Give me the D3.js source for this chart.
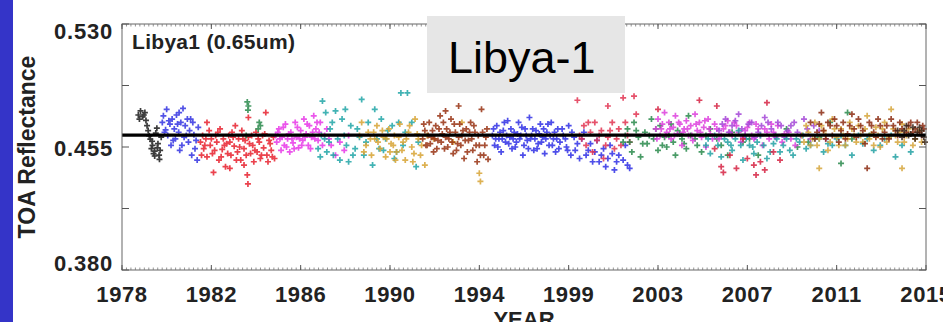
<!DOCTYPE html>
<html>
<head>
<meta charset="utf-8">
<script src="https://cdn.jsdelivr.net/npm/d3@7"></script>
<style>
  html, body { margin: 0; padding: 0; background: #fff; overflow: hidden; }
  svg { display: block; }
</style>
</head>
<body>
<svg id="chart" width="943" height="322"></svg>
<script>
// Axis definitions
const yTickValues = [0.380, 0.455, 0.530];
const yTickLabels = ["0.380", "0.455", "0.530"];
const yMinorValues = [0.4175, 0.4925];
const xTickYears = [1978, 1982.1, 1986.2, 1990.3, 1994.4, 1998.5, 2002.6, 2006.7, 2010.8, 2014.9];
const xTickLabels = ["1978", "1982", "1986", "1990", "1994", "1999", "2003", "2007", "2011", "2015"];
const meanLevel = 0.4623;

// TOA reflectance samples per satellite, [decimal year, reflectance]
const tirosN = [[1978.75,0.4745],[1978.85,0.4770],[1978.95,0.4735],[1979.05,0.4760],[1979.1,0.4712],[1979.2,0.4650],[1979.25,0.4618],[1979.3,0.4598],[1979.35,0.4540],[1979.4,0.4560],[1979.45,0.4510],[1979.5,0.4525],[1979.55,0.4635],[1979.6,0.4665],[1979.65,0.4570],[1979.7,0.4500],[1979.75,0.4530],[1979.8,0.4610],
  [1978.8,0.4720],[1979.0,0.4745],[1979.15,0.4680],[1979.38,0.4585],[1979.5,0.4495],[1979.62,0.4545],[1979.72,0.4475]];
const noaa6 = [[1979.85,0.4700],[1979.9,0.4740],[1980.0,0.4655],[1980.05,0.4780],[1980.1,0.4620],[1980.2,0.4690],[1980.25,0.4560],[1980.3,0.4720],[1980.4,0.4660],[1980.45,0.4600],[1980.5,0.4745],[1980.6,0.4640],[1980.65,0.4530],[1980.7,0.4700],[1980.8,0.4785],[1980.85,0.4610],[1980.9,0.4680],[1981.0,0.4720],[1981.05,0.4580],[1981.1,0.4650],[1981.2,0.4500],[1981.25,0.4700],[1981.3,0.4625],[1981.4,0.4590],[1981.5,0.4670],
  [1979.95,0.4640],[1980.15,0.4710],[1980.35,0.4590],[1980.55,0.4690],[1980.75,0.4560],[1980.95,0.4620],[1981.15,0.4720],[1981.35,0.4540],[1981.45,0.4470],[1980.62,0.4760]];
const noaa7 = [[1981.6,0.4580],[1981.7,0.4620],[1981.75,0.4540],[1981.85,0.4600],[1981.9,0.4490],[1981.9,0.4700],[1982.0,0.4650],[1982.05,0.4560],[1982.15,0.4510],[1982.2,0.4395],[1982.3,0.4620],[1982.35,0.4580],[1982.45,0.4470],[1982.5,0.4660],[1982.6,0.4535],[1982.65,0.4600],[1982.75,0.4430],[1982.8,0.4570],[1982.9,0.4620],[1983.0,0.4500],[1983.05,0.4640],[1983.15,0.4555],[1983.2,0.4680],[1983.3,0.4520],[1983.35,0.4600],[1983.45,0.4470],[1983.5,0.4650],[1983.6,0.4540],[1983.65,0.4590],[1983.75,0.4380],[1983.78,0.4325],[1983.8,0.4610],[1983.8,0.4730],[1983.9,0.4510],[1984.0,0.4560],[1984.05,0.4460],[1984.15,0.4640],[1984.2,0.4520],[1984.3,0.4580],[1984.35,0.4480],[1984.45,0.4620],[1984.5,0.4545],[1984.6,0.4760],[1984.65,0.4500],[1984.75,0.4590],[1984.85,0.4530],[1984.95,0.4610],[1985.0,0.4480],
  [1981.65,0.4500],[1981.8,0.4560],[1982.1,0.4600],[1982.25,0.4530],[1982.4,0.4640],[1982.55,0.4490],[1982.7,0.4560],[1982.85,0.4510],[1982.95,0.4580],[1983.1,0.4610],[1983.25,0.4470],[1983.4,0.4550],[1983.55,0.4600],[1983.7,0.4500],[1983.85,0.4570],[1983.95,0.4620],[1984.1,0.4530],[1984.25,0.4600],[1984.4,0.4500],[1984.55,0.4630],[1984.7,0.4460],[1984.8,0.4570],[1984.9,0.4490],[1983.6,0.4440],[1982.95,0.4420]];
const noaa8 = [[1983.75,0.4825],[1983.8,0.4800],[1983.78,0.4775],[1984.3,0.4700],[1984.35,0.4680],[1984.25,0.4660],[1983.7,0.4620]];
const noaa9 = [[1985.05,0.4620],[1985.1,0.4580],[1985.2,0.4660],[1985.3,0.4530],[1985.35,0.4610],[1985.45,0.4560],[1985.5,0.4690],[1985.6,0.4600],[1985.7,0.4520],[1985.75,0.4640],[1985.85,0.4575],[1985.95,0.4700],[1986.0,0.4610],[1986.1,0.4545],[1986.2,0.4650],[1986.3,0.4590],[1986.35,0.4720],[1986.45,0.4630],[1986.55,0.4560],[1986.6,0.4680],[1986.7,0.4610],[1986.8,0.4740],[1986.9,0.4660],[1987.0,0.4590],[1987.1,0.4700],[1987.3,0.4620],[1987.6,0.4560],[1987.8,0.4500],[1988.0,0.4580],[1988.2,0.4530],[1988.4,0.4620],
  [1985.15,0.4640],[1985.25,0.4600],[1985.4,0.4670],[1985.55,0.4550],[1985.65,0.4630],[1985.8,0.4600],[1985.9,0.4540],[1986.05,0.4670],[1986.15,0.4600],[1986.25,0.4560],[1986.4,0.4610],[1986.5,0.4690],[1986.65,0.4540],[1986.75,0.4640],[1986.85,0.4600],[1986.95,0.4700],[1987.05,0.4640],[1987.2,0.4560],[1987.4,0.4660],[1987.5,0.4600]];
const noaa10 = [[1987.0,0.4540],[1987.1,0.4490],[1987.2,0.4830],[1987.3,0.4600],[1987.4,0.4520],[1987.55,0.4660],[1987.7,0.4500],[1987.8,0.4770],[1987.9,0.4600],[1988.0,0.4470],[1988.1,0.4720],[1988.3,0.4560],[1988.4,0.4460],[1988.5,0.4680],[1988.7,0.4540],[1988.9,0.4610],[1989.0,0.4840],[1989.1,0.4500],[1989.3,0.4700],[1989.5,0.4440],[1989.6,0.4780],[1989.7,0.4600],[1989.9,0.4720],[1990.0,0.4530],[1990.2,0.4650],[1990.5,0.4480],[1990.7,0.4700],[1990.8,0.4880],[1991.1,0.4880],[1990.9,0.4560],[1991.5,0.4430],
  [1987.15,0.4620],[1987.5,0.4580],[1987.65,0.4700],[1988.2,0.4620],[1988.6,0.4500],[1988.8,0.4660],[1989.2,0.4580],[1989.8,0.4540],[1990.1,0.4600],[1990.4,0.4680],[1990.6,0.4520],[1991.0,0.4640],[1991.3,0.4700],[1991.6,0.4580],[1987.35,0.4760],[1988.25,0.4780]];
const noaa11 = [[1988.9,0.4620],[1989.0,0.4700],[1989.2,0.4560],[1989.3,0.4640],[1989.45,0.4500],[1989.6,0.4600],[1989.7,0.4680],[1989.85,0.4540],[1990.0,0.4610],[1990.1,0.4490],[1990.25,0.4660],[1990.35,0.4570],[1990.5,0.4620],[1990.6,0.4520],[1990.75,0.4690],[1990.9,0.4580],[1991.0,0.4470],[1991.15,0.4640],[1991.3,0.4550],[1991.45,0.4720],[1991.6,0.4600],[1991.7,0.4500],[1991.9,0.4440],[1993.2,0.4580],[1993.6,0.4700],[1994.4,0.4390],[1994.45,0.4340],
  [1989.1,0.4520],[1989.4,0.4600],[1989.55,0.4640],[1989.75,0.4580],[1989.95,0.4650],[1990.15,0.4600],[1990.3,0.4520],[1990.45,0.4560],[1990.7,0.4610],[1990.85,0.4530],[1991.05,0.4600],[1991.2,0.4680],[1991.4,0.4510],[1991.55,0.4630],[1991.75,0.4560],[1992.0,0.4620],[1992.3,0.4600],[1990.55,0.4470],[1991.35,0.4460]];
const noaa12 = [[1991.8,0.4600],[1991.9,0.4650],[1992.0,0.4560],[1992.1,0.4700],[1992.2,0.4610],[1992.3,0.4520],[1992.4,0.4680],[1992.5,0.4590],[1992.6,0.4740],[1992.7,0.4630],[1992.8,0.4540],[1992.9,0.4660],[1993.0,0.4600],[1993.1,0.4720],[1993.2,0.4510],[1993.3,0.4640],[1993.4,0.4570],[1993.5,0.4690],[1993.6,0.4620],[1993.7,0.4480],[1993.8,0.4660],[1993.9,0.4590],[1994.0,0.4700],[1994.1,0.4530],[1994.2,0.4640],[1994.3,0.4460],[1994.4,0.4560],[1994.5,0.4780],[1994.6,0.4500],[1994.7,0.4610],[1994.8,0.4475],
  [1991.85,0.4690],[1991.95,0.4560],[1992.05,0.4620],[1992.15,0.4570],[1992.25,0.4650],[1992.35,0.4600],[1992.45,0.4540],[1992.55,0.4660],[1992.65,0.4580],[1992.75,0.4700],[1992.85,0.4610],[1992.95,0.4550],[1993.05,0.4640],[1993.15,0.4580],[1993.25,0.4690],[1993.35,0.4530],[1993.45,0.4610],[1993.55,0.4560],[1993.65,0.4650],[1993.75,0.4590],[1993.85,0.4520],[1993.95,0.4640],[1994.05,0.4600],[1994.15,0.4680],[1994.25,0.4560],[1994.35,0.4620],[1994.45,0.4500],[1994.55,0.4640],[1994.65,0.4560],[1994.75,0.4660],[1993.45,0.4800],[1992.85,0.4770]];
const noaa14 = [[1995.0,0.4620],[1995.1,0.4560],[1995.2,0.4680],[1995.3,0.4600],[1995.4,0.4520],[1995.5,0.4650],[1995.6,0.4580],[1995.7,0.4710],[1995.8,0.4610],[1995.9,0.4540],[1996.0,0.4640],[1996.1,0.4580],[1996.2,0.4700],[1996.3,0.4620],[1996.4,0.4500],[1996.5,0.4660],[1996.6,0.4590],[1996.7,0.4730],[1996.8,0.4620],[1996.9,0.4530],[1997.0,0.4650],[1997.1,0.4570],[1997.2,0.4690],[1997.3,0.4610],[1997.4,0.4510],[1997.5,0.4640],[1997.6,0.4560],[1997.7,0.4700],[1997.8,0.4600],[1997.9,0.4520],[1998.0,0.4660],[1998.1,0.4580],[1998.25,0.4620],[1998.4,0.4550],[1998.5,0.4680],[1998.6,0.4500],[1998.75,0.4610],[1998.9,0.4570],[1999.0,0.4480],[1999.2,0.4640],[1999.4,0.4530],[1999.6,0.4460],[1999.8,0.4590],[2000.0,0.4500],[2000.2,0.4430],[2000.4,0.4560],[2000.6,0.4410],[2000.8,0.4500],[2001.0,0.4470],[2001.1,0.4560],[2001.2,0.4440],[2001.3,0.4420],
  [1995.05,0.4660],[1995.15,0.4600],[1995.25,0.4550],[1995.35,0.4640],[1995.45,0.4600],[1995.55,0.4700],[1995.65,0.4620],[1995.75,0.4570],[1995.85,0.4660],[1995.95,0.4600],[1996.05,0.4550],[1996.15,0.4630],[1996.25,0.4600],[1996.35,0.4670],[1996.45,0.4560],[1996.55,0.4620],[1996.65,0.4540],[1996.75,0.4600],[1996.85,0.4660],[1996.95,0.4600],[1997.05,0.4540],[1997.15,0.4630],[1997.25,0.4580],[1997.35,0.4660],[1997.45,0.4600],[1997.55,0.4690],[1997.65,0.4620],[1997.75,0.4560],[1997.85,0.4640],[1997.95,0.4600],[1998.05,0.4540],[1998.2,0.4660],[1998.35,0.4600],[1998.45,0.4530],[1998.65,0.4640],[1998.8,0.4530],[1999.1,0.4600],[1999.3,0.4500],[1999.5,0.4570],[1999.7,0.4520],[1999.9,0.4460],[2000.1,0.4540],[2000.3,0.4480],[2000.5,0.4510],[2000.7,0.4460]];
const noaa15 = [[1998.9,0.4835],[1999.0,0.4620],[1999.2,0.4680],[1999.3,0.4560],[1999.5,0.4640],[1999.6,0.4520],[1999.7,0.4700],[1999.8,0.4590],[2000.0,0.4650],[2000.1,0.4480],[2000.3,0.4610],[2000.5,0.4700],[2000.6,0.4540],[2000.8,0.4660],[2001.0,0.4850],[2001.2,0.4620],[2001.5,0.4860],[2001.6,0.4750],
  [1999.1,0.4600],[1999.4,0.4700],[1999.9,0.4620],[2000.2,0.4560],[2000.4,0.4650],[2000.7,0.4600],[2000.9,0.4560],[2001.1,0.4700],[2001.3,0.4580],[2000.3,0.4800]];
const noaa16 = [[2001.0,0.4580],[2001.2,0.4660],[2001.4,0.4520],[2001.5,0.4700],[2001.7,0.4610],[2001.8,0.4490],[2002.0,0.4640],[2002.1,0.4570],[2002.3,0.4720],[2002.4,0.4600],[2002.6,0.4530],[2002.7,0.4680],[2002.9,0.4610],[2003.0,0.4550],[2003.2,0.4690],[2003.4,0.4500],[2003.6,0.4630],[2003.8,0.4570],[2004.0,0.4740],[2004.3,0.4600],[2004.6,0.4520],[2005.0,0.4660],[2005.5,0.4560],[2006.0,0.4640],[2006.5,0.4580],[2007.2,0.4500],[2008.0,0.4620],[2009.0,0.4550],[2010.0,0.4610],[2010.5,0.4700],[2011.0,0.4450],[2011.5,0.4600],
  [2001.1,0.4620],[2001.3,0.4580],[2001.6,0.4650],[2001.9,0.4570],[2002.2,0.4620],[2002.5,0.4660],[2002.8,0.4560],[2003.1,0.4620],[2003.3,0.4580],[2003.5,0.4650],[2003.7,0.4600],[2003.9,0.4540],[2004.1,0.4620],[2004.4,0.4560],[2004.8,0.4620],[2005.3,0.4600],[2005.8,0.4500],[2006.8,0.4600],[2008.5,0.4660],[2009.5,0.4580],[2011.3,0.4760],[2012.3,0.4620]];
const noaa17 = [[2002.5,0.4660],[2002.6,0.4720],[2002.7,0.4620],[2002.8,0.4690],[2002.9,0.4760],[2003.0,0.4640],[2003.1,0.4700],[2003.2,0.4600],[2003.3,0.4670],[2003.4,0.4740],[2003.5,0.4630],[2003.6,0.4690],[2003.7,0.4560],[2003.8,0.4660],[2003.9,0.4710],[2004.0,0.4620],[2004.1,0.4680],[2004.2,0.4590],[2004.3,0.4750],[2004.4,0.4650],[2004.5,0.4700],[2004.6,0.4610],[2004.7,0.4670],[2004.8,0.4550],[2004.9,0.4720],[2005.0,0.4630],[2005.2,0.4690],[2005.4,0.4600],[2005.6,0.4660],[2005.8,0.4710],[2006.0,0.4620],[2006.2,0.4680],[2006.4,0.4580],[2006.6,0.4650],[2006.8,0.4700],[2007.0,0.4600],[2007.2,0.4660],[2007.4,0.4560],[2007.6,0.4640],[2007.8,0.4690],[2008.0,0.4610],[2008.3,0.4580],[2008.6,0.4640],[2008.9,0.4560],
  [2002.55,0.4600],[2002.75,0.4660],[2002.95,0.4620],[2003.15,0.4660],[2003.35,0.4620],[2003.55,0.4700],[2003.75,0.4640],[2003.95,0.4660],[2004.15,0.4620],[2004.35,0.4690],[2004.55,0.4640],[2004.75,0.4710],[2004.95,0.4660],[2005.1,0.4600],[2005.3,0.4660],[2005.5,0.4620],[2005.7,0.4680],[2005.9,0.4640],[2006.1,0.4700],[2006.3,0.4640],[2006.5,0.4610],[2006.7,0.4670],[2006.9,0.4620],[2007.1,0.4690],[2007.3,0.4620],[2007.5,0.4660],[2007.7,0.4600],[2007.9,0.4640],[2008.1,0.4680],[2008.4,0.4630],[2008.7,0.4600]];
const noaa18 = [[2005.4,0.4650],[2005.7,0.4720],[2006.0,0.4680],[2006.3,0.4750],[2006.6,0.4620],[2006.9,0.4700],[2007.2,0.4640],[2007.5,0.4730],[2007.8,0.4660],[2008.1,0.4700],[2008.4,0.4610],[2008.7,0.4680],[2009.0,0.4640],[2009.3,0.4720],[2009.6,0.4600],
  [2005.55,0.4690],[2005.85,0.4640],[2006.15,0.4710],[2006.45,0.4660],[2006.75,0.4690],[2007.05,0.4610],[2007.35,0.4680],[2007.65,0.4700],[2007.95,0.4620],[2008.25,0.4680],[2008.55,0.4650],[2008.85,0.4700],[2009.15,0.4620],[2009.45,0.4660],[2009.75,0.4680],[2010.0,0.4650],[2010.3,0.4600]];
const metopA = [[2004.8,0.4560],[2005.0,0.4510],[2005.2,0.4620],[2005.5,0.4490],[2005.8,0.4580],[2006.0,0.4530],[2006.3,0.4650],[2006.5,0.4470],[2006.8,0.4560],[2007.0,0.4510],[2007.3,0.4620],[2007.6,0.4480],[2007.9,0.4570],[2008.2,0.4520],[2008.5,0.4600],[2008.8,0.4500],[2009.1,0.4580],[2009.4,0.4540],[2009.8,0.4600],[2010.2,0.4520],[2010.6,0.4560],[2011.0,0.4620],[2011.5,0.4500],[2012.0,0.4570],[2012.5,0.4530],[2013.0,0.4600],[2013.5,0.4490],
  [2004.9,0.4600],[2005.35,0.4560],[2005.65,0.4600],[2005.95,0.4560],[2006.15,0.4600],[2006.4,0.4560],[2006.65,0.4600],[2006.95,0.4550],[2007.15,0.4580],[2007.45,0.4560],[2007.75,0.4520],[2008.05,0.4600],[2008.35,0.4560],[2008.65,0.4530],[2008.95,0.4600],[2009.25,0.4620],[2009.6,0.4560],[2010.0,0.4600],[2010.4,0.4570],[2010.8,0.4600],[2011.2,0.4560],[2011.8,0.4620],[2012.2,0.4600],[2012.8,0.4560],[2013.3,0.4620],[2013.8,0.4560],[2014.2,0.4520]];
const crimson = [[2005.2,0.4540],[2005.5,0.4430],[2005.6,0.4395],[2005.9,0.4500],[2006.2,0.4420],[2006.5,0.4600],[2006.7,0.4480],[2007.0,0.4440],[2007.1,0.4380],[2007.3,0.4460],[2007.5,0.4410],[2007.6,0.4820],[2007.9,0.4520],[2008.2,0.4470],[2004.5,0.4835],[2005.3,0.4800],[2002.6,0.4780]];
const noaa19 = [[2009.2,0.4620],[2009.4,0.4680],[2009.6,0.4560],[2009.8,0.4700],[2010.0,0.4600],[2010.2,0.4650],[2010.4,0.4530],[2010.6,0.4720],[2010.8,0.4610],[2011.0,0.4660],[2011.2,0.4560],[2011.4,0.4700],[2011.6,0.4620],[2011.8,0.4680],[2012.0,0.4580],[2012.2,0.4740],[2012.4,0.4630],[2012.6,0.4670],[2012.8,0.4550],[2013.0,0.4700],[2013.2,0.4610],[2013.4,0.4660],[2013.6,0.4580],[2013.8,0.4690],[2014.0,0.4620],[2014.3,0.4560],[2014.6,0.4650],[2010.0,0.4420],[2013.8,0.4420],[2013.3,0.4780],
  [2009.3,0.4580],[2009.5,0.4640],[2009.7,0.4600],[2009.9,0.4560],[2010.1,0.4680],[2010.3,0.4620],[2010.5,0.4580],[2010.7,0.4660],[2010.9,0.4560],[2011.1,0.4620],[2011.3,0.4600],[2011.5,0.4660],[2011.7,0.4580],[2011.9,0.4620],[2012.1,0.4660],[2012.3,0.4600],[2012.5,0.4560],[2012.7,0.4620],[2012.9,0.4660],[2013.1,0.4580],[2013.5,0.4620],[2013.7,0.4640],[2013.9,0.4580],[2014.1,0.4660],[2014.4,0.4600],[2014.7,0.4580]];
const metopB = [[2009.6,0.4700],[2009.9,0.4640],[2010.1,0.4760],[2010.3,0.4600],[2010.5,0.4680],[2010.7,0.4720],[2010.9,0.4580],[2011.1,0.4700],[2011.3,0.4630],[2011.5,0.4750],[2011.7,0.4610],[2011.9,0.4680],[2012.1,0.4570],[2012.3,0.4700],[2012.5,0.4640],[2012.7,0.4720],[2012.9,0.4600],[2013.1,0.4680],[2013.3,0.4720],[2013.5,0.4650],[2013.7,0.4700],[2013.9,0.4620],[2014.1,0.4680],[2014.3,0.4640],[2014.5,0.4700],[2014.7,0.4620],[2014.8,0.4660],[2012.2,0.4420],
  [2009.8,0.4600],[2010.0,0.4690],[2010.2,0.4650],[2010.4,0.4700],[2010.6,0.4620],[2010.8,0.4680],[2011.0,0.4650],[2011.2,0.4600],[2011.4,0.4680],[2011.6,0.4660],[2011.8,0.4720],[2012.0,0.4650],[2012.4,0.4680],[2012.6,0.4610],[2012.8,0.4680],[2013.0,0.4640],[2013.2,0.4600],[2013.4,0.4680],[2013.6,0.4620],[2013.8,0.4660],[2014.0,0.4640],[2014.2,0.4700],[2014.4,0.4660],[2014.6,0.4640],[2014.75,0.4680]];
const recent = [[2013.6,0.4650],[2013.8,0.4610],[2014.0,0.4680],[2014.2,0.4630],[2014.4,0.4600],[2014.6,0.4670],[2014.8,0.4610],[2014.85,0.4580],
  [2013.9,0.4650],[2014.1,0.4620],[2014.3,0.4670],[2014.5,0.4640],[2014.7,0.4650]];

const seriesList = [tirosN, noaa6, noaa7, noaa8, noaa9, noaa10, noaa11, noaa12, noaa14, noaa15, noaa16, noaa17, noaa18, metopA, crimson, noaa19, metopB, recent];
const seriesColors = ["#1c1c1c", "#3434e2", "#e8222f", "#2a8a4c", "#e838e8", "#22a6a8", "#d8a434", "#983212", "#3030e6", "#e23452", "#2a8a4c", "#de40de", "#a446d8", "#24a2a4", "#d62444", "#d6a63c", "#8c2c12", "#3a2418"];

const svg = d3.select("#chart");
const W = 943, H = 322;
const x = d3.scaleLinear().domain([1978, 2014.9]).range([122, 926]);
const y = d3.scaleLinear().domain([0.38, 0.53]).range([270, 24]);
const [x0, x1] = x.range();
const [y0, y1] = y.range();
const font = "'Liberation Sans', Arial, Helvetica, sans-serif";

svg.append("rect").attr("width", W).attr("height", H).attr("fill", "#fff");

// slide-edge accent bar
svg.append("rect").attr("x", 0).attr("y", 0).attr("width", 13).attr("height", H).attr("fill", "#3434c8");

// scatter of "+" markers
const plot = svg.append("g");
seriesList.forEach((pts, i) => {
  plot.append("g")
    .attr("stroke", seriesColors[i])
    .attr("stroke-width", 1.7)
    .attr("opacity", 0.85)
    .selectAll("path")
    .data(pts)
    .join("path")
    .attr("d", d => {
      const px = x(d[0]), py = y(d[1]), r = 3;
      return `M${px - r},${py}H${px + r}M${px},${py - r}V${py + r}`;
    });
});

// reference level
svg.append("line")
  .attr("x1", x0).attr("x2", x1)
  .attr("y1", y(meanLevel)).attr("y2", y(meanLevel))
  .attr("stroke", "#000").attr("stroke-width", 3.2);

// frame
svg.append("rect")
  .attr("x", x0).attr("y", y1).attr("width", x1 - x0).attr("height", y0 - y1)
  .attr("fill", "none").attr("stroke", "#666").attr("stroke-width", 1);

// minor x ticks, top and bottom
const step = 4.1 / 20;
const minorYears = d3.range(0, 180).map(k => 1978 + k * step).filter(v => v <= 2014.9 + 1e-6);
const tickG = svg.append("g").attr("stroke", "#777").attr("stroke-width", 0.8);
tickG.selectAll("line.mb").data(minorYears).join("line")
  .attr("x1", d => x(d)).attr("x2", d => x(d)).attr("y1", y0).attr("y2", y0 - 2.5);
tickG.selectAll("line.mt").data(minorYears).join("line")
  .attr("x1", d => x(d)).attr("x2", d => x(d)).attr("y1", y1).attr("y2", y1 + 2.5);

// major x ticks
const majG = svg.append("g").attr("stroke", "#555").attr("stroke-width", 1);
majG.selectAll("line.b").data(xTickYears).join("line")
  .attr("x1", d => x(d)).attr("x2", d => x(d)).attr("y1", y0).attr("y2", y0 - 5);
majG.selectAll("line.t").data(xTickYears).join("line")
  .attr("x1", d => x(d)).attr("x2", d => x(d)).attr("y1", y1).attr("y2", y1 + 5);

// y ticks, left and right
const yTicksAll = yTickValues.concat(yMinorValues);
majG.selectAll("line.l").data(yTicksAll).join("line")
  .attr("x1", x0).attr("x2", x0 + 7).attr("y1", d => y(d)).attr("y2", d => y(d));
majG.selectAll("line.r").data(yTicksAll).join("line")
  .attr("x1", x1).attr("x2", x1 - 7).attr("y1", d => y(d)).attr("y2", d => y(d));

// x tick labels
svg.append("g").selectAll("text").data(xTickYears).join("text")
  .attr("x", d => x(d)).attr("y", 302)
  .attr("text-anchor", "middle")
  .attr("font-family", font).attr("font-weight", "bold").attr("font-size", 22)
  .attr("letter-spacing", 0.6)
  .attr("fill", "#222")
  .text((d, i) => xTickLabels[i]);

// y tick labels (end labels nudged inside the frame)
const yNudge = [-7, 1, 7];
svg.append("g").selectAll("text").data(yTickValues).join("text")
  .attr("x", 113).attr("y", (d, i) => y(d) + yNudge[i])
  .attr("dy", "0.35em")
  .attr("text-anchor", "end")
  .attr("font-family", font).attr("font-weight", "bold").attr("font-size", 22)
  .attr("letter-spacing", 0.8)
  .attr("fill", "#222")
  .text((d, i) => yTickLabels[i]);

// axis titles
svg.append("text")
  .attr("transform", `translate(35,${(y0 + y1) / 2}) rotate(-90)`)
  .attr("text-anchor", "middle")
  .attr("font-family", font).attr("font-weight", "bold").attr("font-size", 23)
  .attr("fill", "#222")
  .text("TOA Reflectance");

svg.append("text")
  .attr("x", (x0 + x1) / 2).attr("y", 327)
  .attr("text-anchor", "middle")
  .attr("font-family", font).attr("font-weight", "bold").attr("font-size", 22)
  .attr("fill", "#222")
  .text("YEAR");

// site / band label inside the frame
svg.append("text")
  .attr("x", 132).attr("y", 49)
  .attr("font-family", font).attr("font-weight", "bold").attr("font-size", 21)
  .attr("letter-spacing", 0.3)
  .attr("fill", "#222")
  .text("Libya1 (0.65um)");

// site name box
svg.append("rect")
  .attr("x", 427).attr("y", 16).attr("width", 198).attr("height", 77)
  .attr("fill", "#e6e6e6");
svg.append("text")
  .attr("x", 448).attr("y", 73)
  .attr("font-family", font).attr("font-size", 45)
  .attr("fill", "#000")
  .text("Libya-1");
</script>
</body>
</html>
